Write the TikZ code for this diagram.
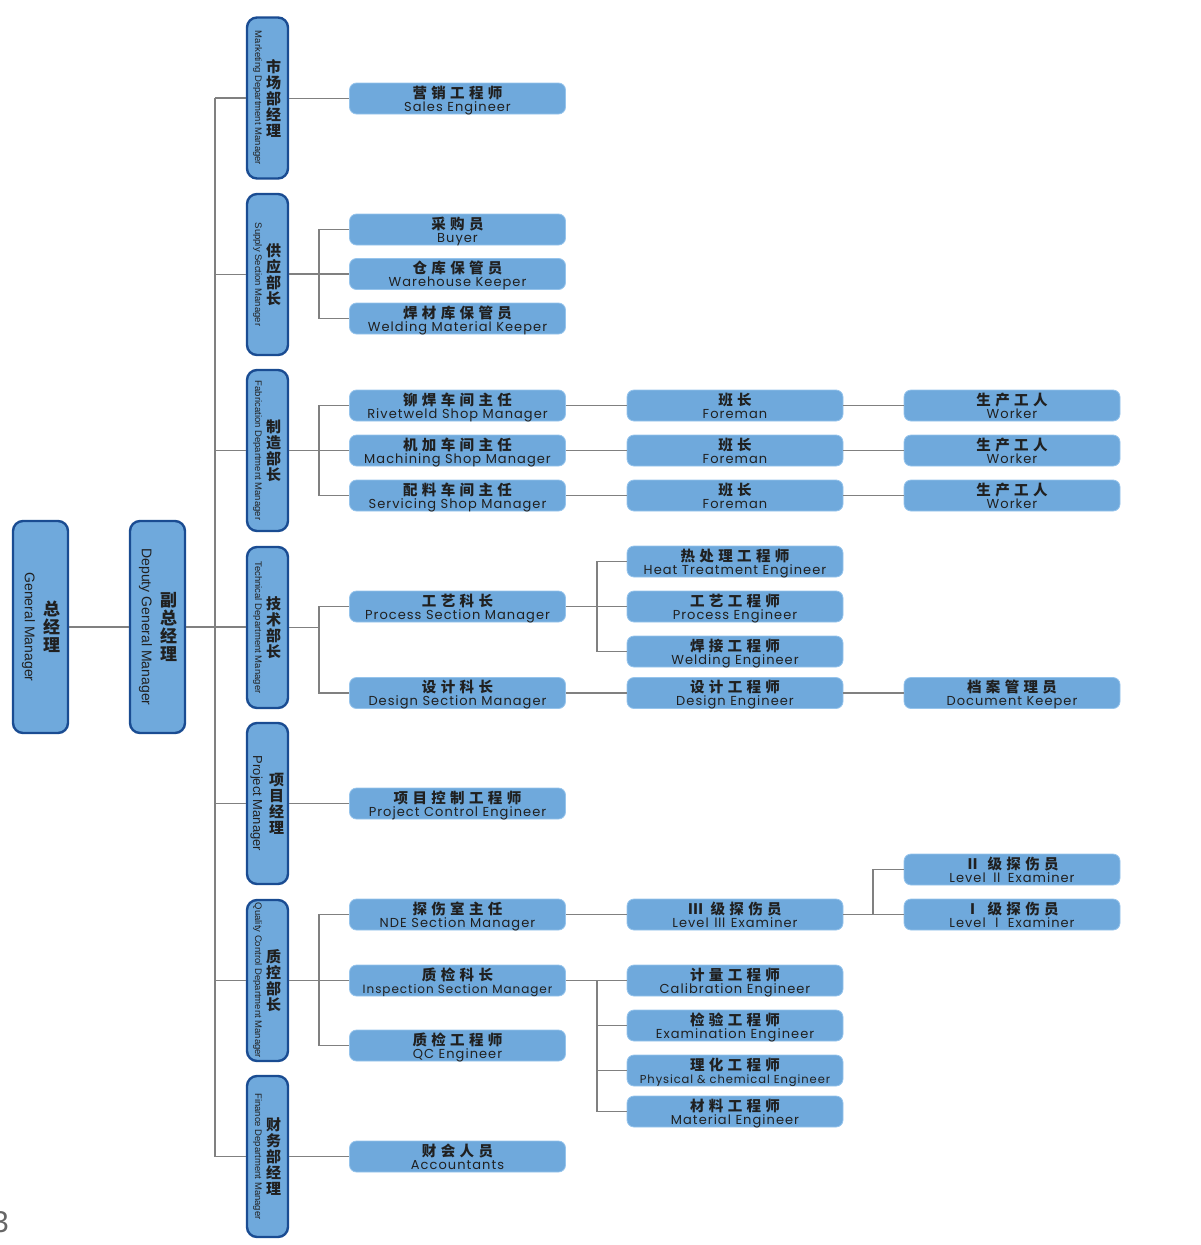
\documentclass[tikz,border=0pt]{standalone}
\usepackage{fontspec}
\setmainfont{Poppins}[LetterSpace=8]
\newfontfamily\cjk{Noto Sans CJK SC}[LetterSpace=30]
\newfontfamily\cjkup{Noto Sans CJK SC}
\newfontfamily\arial{Liberation Sans}
\usetikzlibrary{calc}
\definecolor{boxblue}{RGB}{111,169,220}
\definecolor{rimblue}{RGB}{150,196,236}
\definecolor{edgeblue}{RGB}{26,76,146}
\definecolor{linegray}{RGB}{128,128,128}
\definecolor{txt}{RGB}{32,32,32}
\tikzset{
	job/.style={fill=boxblue, draw=rimblue, line width=0.8pt, rounded corners=7pt, minimum width=216pt, minimum height=31pt, inner sep=0pt, align=center, text=txt, text height=25pt, text depth=0pt, font=\fontsize{13}{13}\selectfont},
	dept/.style={fill=boxblue, draw=edgeblue, line width=2.4pt, rounded corners=10pt, minimum width=41pt, minimum height=161pt, inner sep=0pt},
	boss/.style={dept, minimum width=55pt, minimum height=212pt},
	link/.style={draw=linegray, line width=1.3pt},
	deptcn/.style={align=center, text=txt, inner sep=0pt, font=\cjkup\bfseries\fontsize{15}{16}\selectfont},
	depten/.style={rotate=-90, text=txt, inner sep=0pt, font=\arial\fontsize{9.5}{9.5}\selectfont}
}
\def\job(#1)(#2)#3#4{\node[job] (#1) at (#2) {{\cjk\bfseries\fontsize{14.5}{13}\selectfont #3}\\#4};}
\def\dept(#1)(#2)#3#4{\node[dept] (#1) at (#2) {};
	\node[deptcn] (#1cn) at ([xshift=6pt]#1.center) {#3};
	\node[depten] (#1en) at ([xshift=-10pt]#1.center) {#4};}
\def\sm#1#2{{\fontsize{#1}{13}\selectfont #2}}

\begin{document}
\begin{tikzpicture}[x=1pt, y=-1pt]
			%%%%% START %%%%%
			\useasboundingbox (0,0) rectangle (1200,1245);
			
			\node[boss] (gm) at (40.5, 627) {};
			\node[deptcn, font=\cjkup\bfseries\fontsize{17}{18}\selectfont] (gmcn) at ([xshift=11pt]gm.center) {总\\经\\理};
			\node[depten, font=\arial\fontsize{14}{14}\selectfont] (gmen) at ([xshift=-12pt]gm.center) {General Manager};
			
			\node[boss] (dgm) at (157.5, 627) {};
			\node[deptcn, font=\cjkup\bfseries\fontsize{17}{18}\selectfont] (dgmcn) at ([xshift=11pt]dgm.center) {副\\总\\经\\理};
			\node[depten, font=\arial\fontsize{14}{14}\selectfont] (dgmen) at ([xshift=-12pt]dgm.center) {Deputy General Manager};
			
			\dept(mkt)(267.5, 98){市\\场\\部\\经\\理}{Marketing Department Manager}
			\dept(sup)(267.5, 274.5){供\\应\\部\\长}{Supply Section Manager}
			\dept(fab)(267.5, 450.5){制\\造\\部\\长}{Fabrication Department Manager}
			\dept(tech)(267.5, 627.5){技\\术\\部\\长}{Technical Department Manager}
			\node[dept] (proj) at (267.5, 803.5) {};
			\node[deptcn] (projcn) at ([xshift=9pt]proj.center) {项\\目\\经\\理};
			\node[depten, font=\arial\fontsize{13}{13}\selectfont] (projen) at ([xshift=-11pt]proj.center) {Project Manager};
			\dept(qc)(267.5, 980.5){质\\控\\部\\长}{Quality Control Department Manager}
			\dept(fin)(267.5, 1156.5){财\\务\\部\\经\\理}{Finance Department Manager}
			
			% first column
			\job(sales)(457.5, 98.5){营销工程师}{Sales Engineer}
			\job(buyer)(457.5, 229.5){采购员}{Buyer}
			\job(store)(457.5, 274){仓库保管员}{Warehouse Keeper}
			\job(wmk)(457.5, 318.5){焊材库保管员}{Welding Material Keeper}
			\job(rivet)(457.5, 405.5){铆焊车间主任}{Rivetweld Shop Manager}
			\job(mach)(457.5, 450.5){机加车间主任}{Machining Shop Manager}
			\job(serv)(457.5, 495.5){配料车间主任}{Servicing Shop Manager}
			\job(psm)(457.5, 606.5){工艺科长}{Process Section Manager}
			\job(dsm)(457.5, 693){设计科长}{Design Section Manager}
			\job(pce)(457.5, 803.5){项目控制工程师}{Project Control Engineer}
			\job(nde)(457.5, 914.5){探伤室主任}{NDE Section Manager}
			\job(ism)(457.5, 980.5){质检科长}{\sm{12}{Inspection Section Manager}}
			\job(qce)(457.5, 1045.5){质检工程师}{QC Engineer}
			\job(acc)(457.5, 1156.5){财会人员}{Accountants}
			
			% second column
			\job(fm1)(735, 405.5){班长}{Foreman}
			\job(fm2)(735, 450.5){班长}{Foreman}
			\job(fm3)(735, 495.5){班长}{Foreman}
			\job(heat)(735, 561.5){热处理工程师}{Heat Treatment Engineer}
			\job(proc)(735, 606.5){工艺工程师}{Process Engineer}
			\job(weld)(735, 651.5){焊接工程师}{Welding Engineer}
			\job(deng)(735, 693){设计工程师}{Design Engineer}
			\job(lv3)(735, 914.5){Ⅲ 级探伤员}{Level {\cjkup Ⅲ} Examiner}
			\job(cal)(735, 980.5){计量工程师}{Calibration Engineer}
			\job(exam)(735, 1025.5){检验工程师}{Examination Engineer}
			\job(phys)(735, 1070.5){理化工程师}{\sm{11.5}{Physical \& chemical Engineer}}
			\job(mat)(735, 1111.5){材料工程师}{Material Engineer}
			
			% third column
			\job(wk1)(1012, 405.5){生产工人}{Worker}
			\job(wk2)(1012, 450.5){生产工人}{Worker}
			\job(wk3)(1012, 495.5){生产工人}{Worker}
			\job(dock)(1012, 693){档案管理员}{Document Keeper}
			\job(lv2)(1012, 869.5){Ⅱ 级探伤员}{Level {\cjkup Ⅱ} Examiner}
			\job(lv1)(1012, 914.5){Ⅰ 级探伤员}{Level {\cjkup Ⅰ} Examiner}
			
			\node[text=black!60, font=\arial\fontsize{30}{30}\selectfont, anchor=east, inner sep=0pt] (pg) at (9, 1222) {3};
			
			% connectors
			\coordinate (trunk) at (215, 0);
			\coordinate (sub) at (319, 0);
			\coordinate (sub2) at (597, 0);
			\coordinate (sub3) at (873, 0);
			
			\draw[link] (gm) -- (dgm);
			\draw[link] (dgm.east) -- (dgm.east -| tech.west);
			\draw[link] (trunk |- mkt.west) -- (trunk |- fin.west);
			\foreach \d in {mkt, sup, fab, proj, qc, fin}
				\draw[link] (trunk |- \d.west) -- (\d.west);
			
			\draw[link] (sales.west -| mkt.east) -- (sales.west);
			\draw[link] (store.west -| sup.east) -- (store.west);
			\draw[link] (buyer.west) -- (buyer.west -| sub) |- (wmk.west);
			\draw[link] (mach.west -| fab.east) -- (mach.west);
			\draw[link] (rivet.west) -- (rivet.west -| sub) |- (serv.west);
			\draw[link] (tech.east) -- (tech.east -| sub);
			\draw[link] (psm.west) -- (psm.west -| sub) |- (dsm.west);
			\draw[link] (pce.west -| proj.east) -- (pce.west);
			\draw[link] (ism.west -| qc.east) -- (ism.west);
			\draw[link] (nde.west) -- (nde.west -| sub) |- (qce.west);
			\draw[link] (acc.west -| fin.east) -- (acc.west);
			
			\foreach \a/\b in {rivet/fm1, mach/fm2, serv/fm3, fm1/wk1, fm2/wk2, fm3/wk3, psm/proc, dsm/deng, deng/dock, nde/lv3, lv3/lv1, ism/cal}
				\draw[link] (\a) -- (\b);
			
			\draw[link] (heat.west) -- (heat.west -| sub2) |- (weld.west);
			\draw[link] (ism.east -| sub2) |- (mat.west);
			\draw[link] (exam.west -| sub2) -- (exam.west);
			\draw[link] (phys.west -| sub2) -- (phys.west);
			\draw[link] (lv2.west) -- (lv2.west -| sub3) -- (sub3 |- lv1.west);
			
			%%%%% END %%%%%
\end{tikzpicture}
\end{document}
